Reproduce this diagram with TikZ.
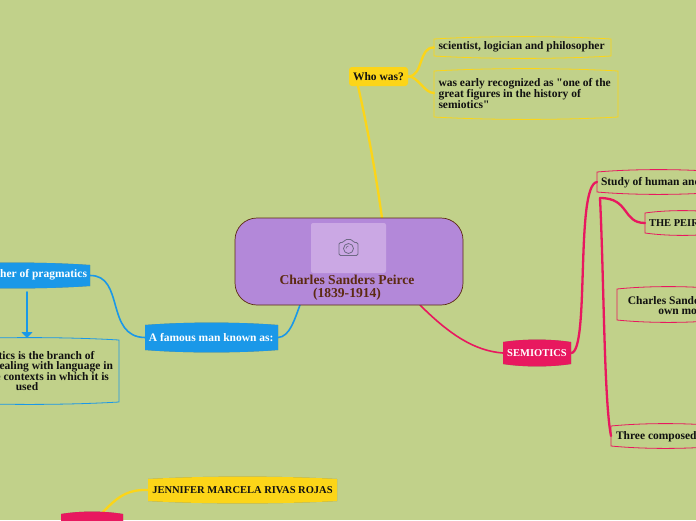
\documentclass[tikz,border=0pt]{standalone}
\usepackage{fontspec}
\setmainfont{Liberation Serif}[Ligatures=TeXOff]
\usetikzlibrary{arrows.meta,calc}
\definecolor{bgc}{HTML}{C1D18A}
\definecolor{ylw}{HTML}{FCD518}
\definecolor{blu}{HTML}{1A98E8}
\definecolor{pnk}{HTML}{E8185F}
\definecolor{pur}{HTML}{B388D9}
\definecolor{pho}{HTML}{CBA8E4}
\definecolor{brn}{HTML}{5C2A12}
\definecolor{txtc}{HTML}{111111}
\definecolor{cam}{HTML}{6E6A85}
\definecolor{shd}{HTML}{7F8A60}
\tikzset{
  x=1pt,y=-1pt,
  lbl/.style={font=\fontsize{11.5}{10.6}\selectfont\bfseries,inner sep=0pt,outer sep=0pt,text=txtc},
  caps/.style={font=\fontsize{10.5}{10.6}\selectfont\bfseries},
  txtbox/.style={lbl,align=left,anchor=north west},
  wbox/.style={lbl,align=center,text=white},
  conn/.style={line width=1.6pt,line cap=round},
  thick conn/.style={line width=2.3pt,line cap=round},
  bar/.style={line width=0.8pt},
}
% \boxshape{west}{top}{east}{bottom}{name}
\newcommand{\boxshape}[5]{\coordinate (#5nw) at (#1,#2);\coordinate (#5ne) at (#3,#2);\coordinate (#5se) at (#3,#4);\coordinate (#5sw) at (#1,#4);\coordinate (#5w) at (#1,{(#2+#4)/2});\coordinate (#5e) at (#3,{(#2+#4)/2});}
\newcommand{\barrelpath}[2]{\path[#2] (#1nw) .. controls ($(#1nw)!.3!(#1ne)+(0,-3.2)$) and ($(#1nw)!.7!(#1ne)+(0,-3.2)$) .. (#1ne) -- (#1se) .. controls ($(#1se)!.3!(#1sw)+(0,3.2)$) and ($(#1se)!.7!(#1sw)+(0,3.2)$) .. (#1sw) -- cycle;}
\newcommand{\barrelfill}[2]{\begin{scope}[yshift=-1.6pt]\barrelpath{#1}{fill=shd}\end{scope}\barrelpath{#1}{fill=#2}}
\begin{document}
\begin{tikzpicture}
\useasboundingbox (0,0) rectangle (696,520);
\clip (0,0) rectangle (696,520);
\fill[bgc] (0,0) rectangle (696,520);

% geometry
\boxshape{349}{67}{408}{86}{who}
\boxshape{434}{39}{611}{56}{sci}
\boxshape{434}{71}{618}{117}{rec}
\boxshape{145}{325}{278}{350}{fam}
\boxshape{-60}{265}{90}{286}{fat}
\boxshape{-60}{340}{119}{402}{pra}
\boxshape{503}{342}{571}{364}{sem}
\boxshape{597}{172}{720}{192}{stu}
\boxshape{645}{213}{720}{233}{pei}
\boxshape{617}{289}{720}{320}{cha}
\boxshape{611}{426}{720}{446}{thr}
\boxshape{148}{479}{337}{501}{jen}
\boxshape{61}{514}{123}{540}{red}
\coordinate (ctr) at (349,261.5);
\coordinate (whoout) at (358,86);
\coordinate (ctrtop) at (382,218);
\coordinate (ctrbl) at (300,305);
\coordinate (ctrbr) at (420,305);
\coordinate (stub) at (600,198);
\coordinate (arrtop) at (27,292);
\coordinate (redtop) at (103,512);

% connectors
\draw[ylw,thick conn] (whoout) .. controls (368,130) and (376,175) .. (ctrtop);
\draw[ylw,thick conn] (whoe) .. controls (424,76) and (418,47) .. (sciw);
\draw[ylw,thick conn] (whoe) .. controls (418,76) and (424,93) .. (434,93);
\draw[blu,conn] (ctrbl) .. controls (295,318) and (290,337) .. (fame);
\draw[blu,conn] (fate) .. controls (125,275) and (105,337) .. (famw);
\draw[blu,conn,-{Triangle[length=6pt,width=11pt]}] (arrtop) -- (27,338);
\draw[pnk,conn] (ctrbr) .. controls (450,335) and (475,351) .. (semw);
\draw[pnk,thick conn] (seme) .. controls (590,353) and (575,185) .. (stuw);
\draw[pnk,thick conn] (stub) .. controls (630,198) and (622,223) .. (peiw);
\draw[pnk,thick conn] (stub) .. controls (604,280) and (604,400) .. (thrw);
\draw[ylw,thick conn] (jenw) .. controls (125,489) and (115,500) .. (redtop);

% outlined boxes
\barrelpath{sci}{draw=ylw,bar}
\barrelpath{rec}{draw=ylw,bar}
\barrelpath{pra}{draw=blu,bar}
\barrelpath{stu}{draw=pnk,bar}
\barrelpath{pei}{draw=pnk,bar}
\barrelpath{cha}{draw=pnk,bar}
\barrelpath{thr}{draw=pnk,bar}

% filled boxes
\fill[ylw,rounded corners=3pt] (whonw) rectangle (whose);
\barrelfill{fam}{blu}
\barrelfill{fat}{blu}
\barrelfill{sem}{pnk}
\barrelfill{jen}{ylw}
\barrelfill{red}{pnk}

% central topic
\node[draw=brn,fill=pur,line width=0.7pt,rounded corners=22pt,minimum width=228pt,minimum height=87pt,inner sep=0pt] (centre) at (ctr) {};
\node[fill=pho,rounded corners=2pt,minimum width=75pt,minimum height=50pt,inner sep=0pt] (photo) at (348.5,248) {};
\draw[cam,line width=0.8pt,rounded corners=1.5pt] (339,242.5) -- (343.5,242.5) -- (345,239.5) -- (352,239.5) -- (353.5,242.5) -- (358,242.5) -- (358,255.5) -- (339,255.5) -- cycle;
\draw[cam,line width=0.8pt] (348.5,248.5) circle (5pt);
\draw[cam,line width=0.6pt] (348.5,248.5) ++(-2.5,0) arc (180:90:2.5pt);
\node[lbl,text=brn,align=center,font=\fontsize{13.6}{13}\selectfont\bfseries] (ctitle) at (347,288) {Charles Sanders Peirce\\(1839-1914)};

% texts
\node[lbl] (twho) at (378.5,76.5) {Who was?};
\node[txtbox] (tsci) at (438.5,42) {scientist, logician and philosopher};
\node[txtbox] (trec) at (438.5,78) {was early recognized as "one of the\\great figures in the history of\\semiotics"};
\node[wbox,anchor=east] (tfam) at (273.5,337.5) {A famous man known as:};
\node[wbox,anchor=east] (tfat) at (87,275) {Father of pragmatics};
\node[lbl,align=center] (tpra) at (27,371) {Pragmatics is the branch of\\linguistics dealing with language in\\use and the contexts in which it is\\used};
\node[wbox,caps] (tsem) at (537,353) {SEMIOTICS};
\node[lbl,anchor=west] (tstu) at (601,183) {Study of human and};
\node[lbl,caps,anchor=west] (tpei) at (649,223) {THE PEIRCE};
\node[lbl,align=center] (tcha) at (685,305.5) {Charles Sanders Peirce\\own model};
\node[lbl,anchor=west] (tthr) at (616,437) {Three composed};
\node[lbl,caps] (tjen) at (242.5,490) {JENNIFER MARCELA RIVAS ROJAS};
\end{tikzpicture}
\end{document}
